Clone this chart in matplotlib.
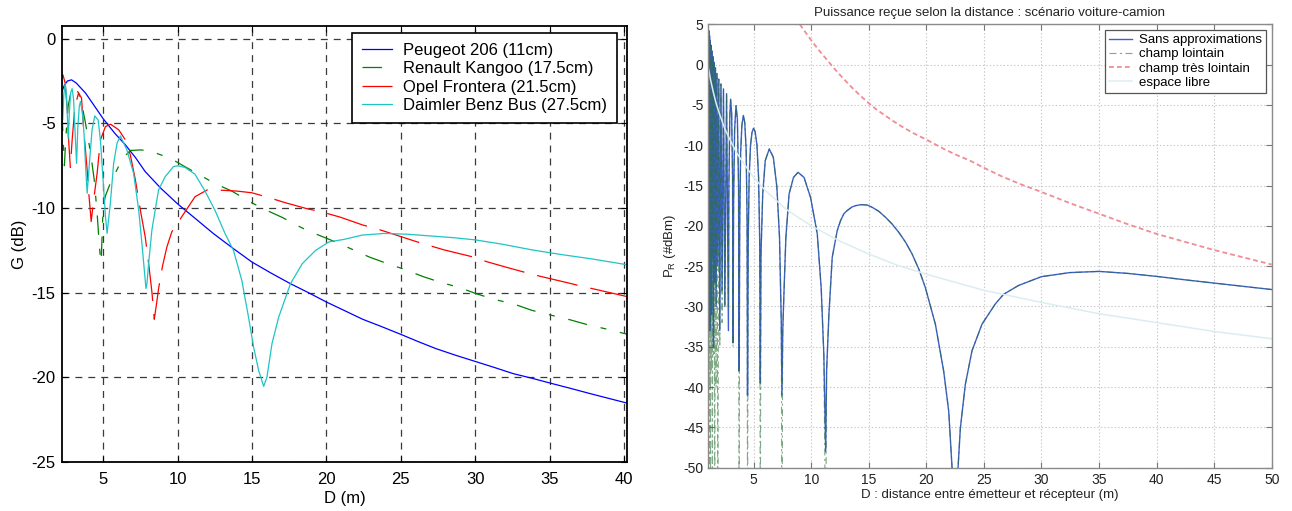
import matplotlib
matplotlib.use('Agg')
import matplotlib.pyplot as plt

plt.rcParams['font.family'] = ['Liberation Sans', 'DejaVu Sans']
plt.rcParams['lines.scale_dashes'] = False
plt.rcParams['axes.unicode_minus'] = False
plt.rcParams['mathtext.fontset'] = 'custom'
plt.rcParams['mathtext.rm'] = 'Liberation Sans'
plt.rcParams['mathtext.it'] = 'Liberation Sans:italic'

# ---------------- left panel data (G in dB vs D in m) ----------------
left_xticks = [5, 10, 15, 20, 25, 30, 35, 40]
left_yticks = [-25, -20, -15, -10, -5, 0]
left_labels = ['Peugeot 206 (11cm)', 'Renault Kangoo (17.5cm)',
               'Opel Frontera (21.5cm)', 'Daimler Benz Bus (27.5cm)']

peugeot_x = [2.24, 2.40, 2.6, 2.88, 3.2, 3.82, 4.4, 5.0, 5.8, 6.5, 7.2, 7.83, 8.9, 10.0,
             11.17, 12.4, 13.76, 15.0, 16.3, 17.59, 18.8, 20.0, 21.2, 22.44, 23.7, 25.0,
             26.2, 27.38, 28.7, 30.0, 31.3, 32.55, 33.8, 35.0, 36.4, 37.72, 39.0, 40.2]
peugeot_y = [-3.1, -2.75, -2.5, -2.43, -2.62, -3.21, -3.95, -4.72, -5.6, -6.27, -7.05, -7.85,
             -8.85, -9.75, -10.6, -11.5, -12.4, -13.19, -13.85, -14.47, -15.0, -15.55,
             -16.05, -16.57, -17.0, -17.46, -17.9, -18.31, -18.7, -19.06, -19.42, -19.78,
             -20.05, -20.33, -20.65, -20.96, -21.25, -21.52]

kangoo_x = [2.24, 2.32, 2.40, 2.5, 2.65, 2.85, 3.1, 3.35, 3.6, 3.8, 4.0, 4.2, 4.4, 4.6, 4.7,
            4.82, 4.87, 5.0, 5.15, 5.5, 5.87, 6.09, 6.5, 6.83, 7.5, 8.06, 9.0, 9.4, 10.3,
            11.5, 12.5, 13.65, 14.9, 15.9, 17.07, 18.33, 19.4, 20.8, 22.9, 24.0, 25.3, 26.5,
            27.6, 28.96, 30.1, 31.27, 32.66, 33.8, 34.96, 36.37, 37.5, 38.73, 40.2]
kangoo_y = [-4.3, -6.0, -7.5, -5.8, -4.0, -3.1, -2.85, -3.2, -4.0, -4.9, -5.9, -7.0, -8.3,
            -10.3, -11.6, -13.0, -13.2, -10.0, -9.3, -8.5, -7.85, -7.46, -6.9, -6.6, -6.57,
            -6.6, -6.9, -7.0, -7.46, -8.05, -8.55, -9.0, -9.65, -10.1, -10.57, -11.16,
            -11.57, -12.07, -12.9, -13.25, -13.64, -14.05, -14.37, -14.7, -15.07, -15.39,
            -15.69, -16.04, -16.3, -16.6, -16.88, -17.13, -17.45]

frontera_x = [2.24, 2.3, 2.45, 2.6, 2.7, 2.8, 2.92, 3.1, 3.35, 3.55, 3.7, 3.93, 4.04, 4.2,
              4.37, 4.6, 4.82, 5.16, 5.5, 6.05, 6.5, 6.83, 7.17, 7.5, 7.83, 8.06, 8.28, 8.44,
              8.6, 8.73, 9.0, 9.29, 9.62, 10.29, 11.18, 12.0, 13.0, 14.0, 15.0, 16.0, 17.3,
              18.7, 19.73, 20.97, 22.43, 23.3, 24.7, 26.1, 27.9, 29.9, 30.74, 32.1, 33.55,
              34.45, 35.9, 37.26, 38.27, 40.2]
frontera_y = [-2.3, -2.13, -2.6, -4.3, -6.2, -7.6, -6.0, -4.1, -3.2, -3.5, -5.4, -7.75,
              -9.13, -10.8, -9.5, -7.95, -5.98, -5.19, -5.05, -5.38, -5.98, -6.86, -8.34,
              -10.1, -11.7, -13.27, -14.95, -16.57, -15.6, -14.75, -13.4, -12.29, -11.4,
              -10.51, -9.33, -8.93, -8.95, -9.0, -9.1, -9.35, -9.7, -10.04, -10.24, -10.55,
              -11.0, -11.2, -11.6, -12.0, -12.47, -12.9, -13.16, -13.5, -13.85, -14.05,
              -14.35, -14.64, -14.84, -15.23]

daimler_x = [2.24, 2.29, 2.36, 2.45, 2.53, 2.6, 2.66, 2.73, 2.82, 2.92, 3.02, 3.1, 3.22, 3.3,
             3.4, 3.48, 3.6, 3.72, 3.83, 3.93, 4.08, 4.26, 4.44, 4.67, 4.82, 5.0, 5.16, 5.27,
             5.49, 5.71, 5.94, 6.16, 6.6, 7.05, 7.39, 7.61, 7.88, 7.95, 8.06, 8.28, 8.5, 8.73,
             9.17, 9.73, 10.0, 10.5, 11.17, 11.85, 12.52, 13.2, 13.76, 14.32, 14.77, 15.11,
             15.45, 15.79, 16.01, 16.35, 16.8, 17.59, 18.38, 19.28, 20.18, 21.2, 22.4, 23.9,
             25.5, 27.0, 28.5, 30.0, 31.9, 33.8, 35.8, 37.8, 40.2]
daimler_y = [-3.4, -4.8, -3.3, -2.65, -3.2, -4.6, -5.9, -4.4, -3.2, -2.95, -3.6, -5.2, -7.36,
             -5.3, -4.0, -3.71, -4.3, -5.6, -7.6, -9.13, -7.36, -5.38, -4.56, -4.8, -5.98,
             -8.34, -10.5, -11.5, -9.7, -7.36, -6.17, -5.74, -6.57, -7.95, -10.1, -12.1,
             -14.75, -14.45, -13.27, -11.3, -10.12, -8.93, -8.15, -7.55, -7.51, -7.6, -8.0,
             -9.0, -10.14, -11.52, -12.5, -14.27, -16.44, -18.2, -19.59, -20.53, -19.98,
             -18.0, -16.44, -14.47, -13.29, -12.5, -12.0, -11.85, -11.6, -11.5, -11.55,
             -11.65, -11.75, -11.88, -12.15, -12.47, -12.75, -13.0, -13.35]

# ---------------- right panel data (P_R in dBm vs D in m) ----------------
right_xticks = [5, 10, 15, 20, 25, 30, 35, 40, 45, 50]
right_yticks = [-50, -45, -40, -35, -30, -25, -20, -15, -10, -5, 0, 5]
right_labels = ['Sans approximations', 'champ lointain', 'champ très lointain', 'espace libre']

start_x, start_y = 1.0, 4.4
null_x = [1.02, 1.07, 1.13, 1.19, 1.25, 1.33, 1.41, 1.50, 1.61, 1.73, 1.88, 2.05, 2.25,
          2.49, 2.80, 3.20, 3.73, 4.46, 5.57, 7.45, 11.25, 22.50]
sa_null_y = [-24, -30, -22, -33, -26, -31, -24, -35, -27, -30, -25, -33, -28, -30, -33,
             -34.5, -38, -41, -39.5, -41, -48, -65]
cl_null_y = [-60, -45, -60, -40, -60, -38, -60, -36, -60, -40, -60, -35, -32, -30, -30,
             -35, -60, -60, -60, -60, -60, -60]
lobe_x = [[1.045], [1.10], [1.16], [1.22], [1.29], [1.37], [1.455], [1.555], [1.67],
          [1.805], [1.965], [2.15], [2.37], [2.64],
          [2.84, 2.92, 2.99, 3.08, 3.16],
          [3.25, 3.34, 3.46, 3.58, 3.68],
          [3.78, 3.86, 3.97, 4.10, 4.22, 4.34, 4.42],
          [4.52, 4.60, 4.72, 4.85, 4.98, 5.12, 5.28, 5.42, 5.52],
          [5.63, 5.78, 6.00, 6.35, 6.70, 7.01, 7.24, 7.39],
          [7.52, 7.64, 7.79, 8.07, 8.45, 8.85, 9.37, 9.94, 10.52, 10.86, 11.09],
          [11.33, 11.53, 11.82, 12.25, 12.54, 12.83, 13.12, 13.55, 13.84, 14.34, 14.86,
           15.29, 15.87, 16.45, 17.02, 17.60, 18.2, 18.76, 19.35, 19.91, 20.78, 21.50,
           21.94, 22.23]]
lobe_y = [[4.7], [4.2], [3.6], [3.0], [2.4], [1.7], [1.0], [0.3], [-0.4],
          [-1.1], [-1.8], [-2.4], [-3.0], [-3.6],
          [-15, -6.5, -4.3, -6.0, -14],
          [-17, -8, -5.1, -6.8, -15],
          [-20, -11, -7.5, -6.3, -7.2, -10.5, -19],
          [-22, -14, -10, -8.4, -7.9, -8.3, -10, -14, -22],
          [-23.5, -16.06, -11.9, -10.46, -11.5, -15.2, -21.45, -31.8],
          [-33, -27.7, -21.5, -16.06, -14.0, -13.36, -14.0, -16.5, -21.0, -27.7, -36.0],
          [-38, -31, -23.9, -20.6, -19.36, -18.5, -18.1, -17.65, -17.5, -17.37, -17.42,
           -17.7, -18.2, -18.94, -19.77, -20.8, -22.05, -23.5, -25.4, -27.66, -32.2, -38.0,
           -43.0, -50]]
tail_x = [22.75, 22.95, 23.38, 23.96, 24.83, 25.98, 26.7, 28.0, 30.0, 32.45, 35.0, 37.5,
          40.0, 42.5, 45.0, 47.5, 50.0]
tail_y = [-50, -45.1, -39.7, -35.5, -32.2, -29.7, -28.5, -27.4, -26.3, -25.8, -25.65,
          -25.9, -26.27, -26.7, -27.1, -27.5, -27.9]

tres_lointain_x = [9.0, 9.5, 10.0, 10.6, 11.33, 12.0, 12.7, 13.5, 14.22, 15.0, 15.6, 16.4,
                   17.11, 18.0, 19.0, 20.0, 21.57, 22.6, 23.77, 25.0, 26.6, 28.3, 30.0,
                   32.5, 35.0, 37.5, 40.0, 42.5, 45.0, 47.5, 50.0]
tres_lointain_y = [5.0, 4.0, 3.0, 1.9, 0.65, -0.5, -1.6, -2.8, -3.8, -4.8, -5.5, -6.3,
                   -7.0, -7.8, -8.6, -9.3, -10.5, -11.2, -11.9, -12.8, -13.9, -14.9, -15.8,
                   -17.2, -18.5, -19.8, -21.0, -22.0, -23.0, -23.9, -24.8]

libre_x = [1.0, 1.25, 1.5, 1.75, 2.0, 2.5, 3.0, 3.5, 4.0, 5.0, 6.0, 7.86, 10.0, 12.5, 15.0,
           17.5, 20.0, 25.0, 30.0, 35.0, 40.0, 45.0, 50.0]
libre_y = [0.0, -1.9, -3.5, -4.9, -6.0, -8.0, -9.5, -10.9, -12.0, -14.0, -15.6, -18.0,
           -20.0, -21.9, -23.5, -24.9, -26.0, -28.0, -29.5, -30.9, -32.0, -33.1, -34.0]


def build_curve(null_depths):
    xs, ys = [start_x], [start_y]
    for i, nx in enumerate(null_x):
        xs.append(nx)
        ys.append(null_depths[i])
        if i < len(lobe_x):
            xs.extend(lobe_x[i])
            ys.extend(lobe_y[i])
    xs.extend(tail_x)
    ys.extend(tail_y)
    return xs, ys


W, H = 1292, 511
fig = plt.figure(figsize=(W / 100, H / 100), dpi=100)

# ---------------- left axes ----------------
ax1 = fig.add_axes([62 / W, 1 - 462 / H, (627 - 62) / W, (462 - 26) / H])
ax1.plot(peugeot_x, peugeot_y, color='#0000ff', lw=0.9, label=left_labels[0])
ax1.plot(kangoo_x, kangoo_y, color='#008000', lw=0.9,
         linestyle=(0, (14, 10, 4.3, 10)), label=left_labels[1])
ax1.plot(frontera_x, frontera_y, color='#ff0000', lw=0.9,
         linestyle=(0, (30, 9.4)), label=left_labels[2])
ax1.plot(daimler_x, daimler_y, color='#1fc4c4', lw=0.9, label=left_labels[3])
ax1.set_xlim(2.24, 40.2)
ax1.set_ylim(-25, 0.75)
ax1.set_xticks(left_xticks)
ax1.set_yticks(left_yticks)
ax1.grid(True, color='#3a3a3a', linestyle=(0, (5, 4.3)), lw=0.9)
ax1.tick_params(direction='in', length=4, top=True, right=True, labelsize=12,
                color='black', labelcolor='black')
ax1.tick_params(axis='x', pad=7)
ax1.tick_params(axis='y', pad=4.5)
for s in ax1.spines.values():
    s.set_linewidth(1.3)
    s.set_color('black')
ax1.set_xlabel('D (m)', fontsize=12)
ax1.set_ylabel('G (dB)', fontsize=12)
ax1.xaxis.set_label_coords(0.5, -0.066)
ax1.yaxis.set_label_coords(-0.062, 0.5)
leg1 = ax1.legend(loc='upper right', bbox_to_anchor=(617 / W, 1 - 33 / H),
                  bbox_transform=fig.transFigure, borderaxespad=0, fontsize=12,
                  frameon=True, fancybox=False, edgecolor='black', framealpha=1,
                  handlelength=1.8, handletextpad=0.65, labelspacing=0.2,
                  borderpad=0.6)
leg1.get_frame().set_linewidth(1.2)

# ---------------- right axes ----------------
ax2 = fig.add_axes([707.7 / W, 1 - 467.7 / H, (1271.7 - 707.7) / W, (467.7 - 24.3) / H])
sa_x, sa_y = build_curve(sa_null_y)
cl_x, cl_y = build_curve(cl_null_y)
ax2.plot(sa_x, sa_y, color='#3d5fd2', lw=1.0, label=right_labels[0])
ax2.plot(cl_x, cl_y, color='#2a6e32', lw=0.8, alpha=0.6,
         linestyle=(0, (5, 2.5, 1.5, 2.5)), label=right_labels[1])
ax2.plot(tres_lointain_x, tres_lointain_y, color='#f08c94', lw=1.3,
         linestyle=(0, (3.5, 2.2)), label=right_labels[2])
ax2.plot(libre_x, libre_y, color='#dcedf2', lw=1.1, label=right_labels[3])
ax2.set_xlim(1, 50)
ax2.set_ylim(-50, 5)
ax2.set_xticks(right_xticks)
ax2.set_yticks(right_yticks)
ax2.grid(True, color='#c8c8c8', linestyle=(0, (1, 1.5)), lw=0.8)
ax2.tick_params(direction='in', length=4, top=True, right=True, labelsize=10,
                color='#777777', labelcolor='#222222')
ax2.tick_params(axis='x', pad=4)
ax2.tick_params(axis='y', pad=3)
for s in ax2.spines.values():
    s.set_linewidth(1.0)
    s.set_color('#8a8a8a')
ax2.set_title('Puissance reçue selon la distance : scénario voiture-camion',
              fontsize=9.5, color='#222222', pad=6)
ax2.set_xlabel('D : distance entre émetteur et récepteur (m)', fontsize=9.5,
               color='#222222')
ax2.set_ylabel(r'P$_{\mathrm{R}}$ (#dBm)', fontsize=9.5, color='#222222')
ax2.xaxis.set_label_coords(0.5, -0.048)
ax2.yaxis.set_label_coords(-0.053, 0.5)
leg2 = ax2.legend(loc='upper right', bbox_to_anchor=(1266 / W, 1 - 30 / H),
                  bbox_transform=fig.transFigure, borderaxespad=0, fontsize=9.5,
                  frameon=True, fancybox=False, edgecolor='#555555', framealpha=1,
                  handlelength=1.8, handletextpad=0.5, labelspacing=0.15,
                  borderpad=0.3)
leg2.get_frame().set_linewidth(0.9)

fig.savefig('out.png', dpi=100)
